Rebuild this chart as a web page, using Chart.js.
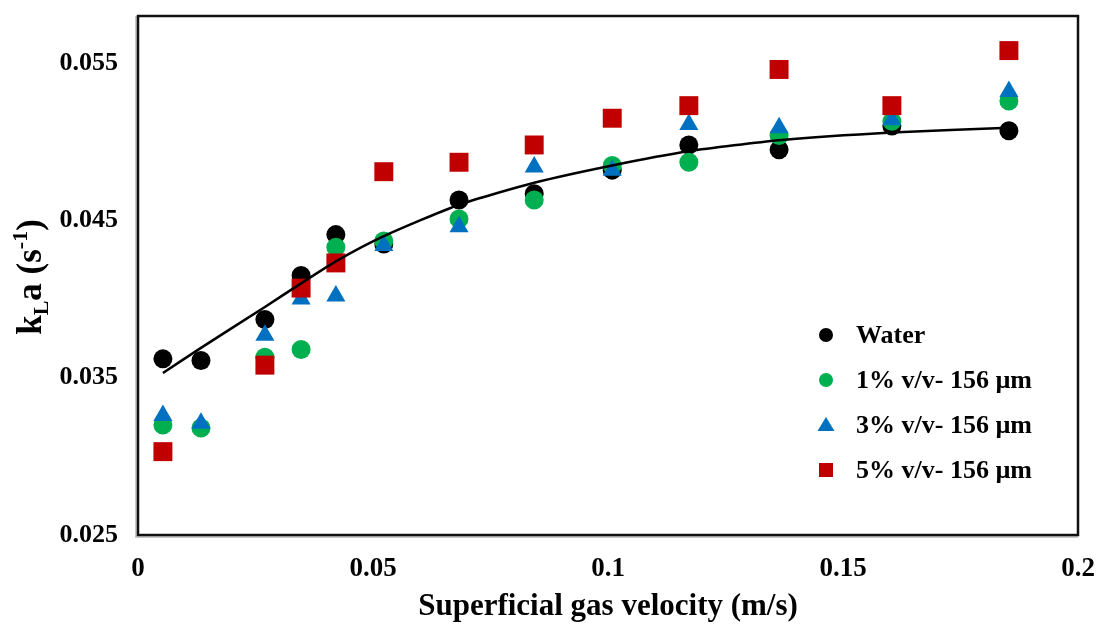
<!DOCTYPE html>
<html>
<head>
<meta charset="utf-8">
<script src="https://cdn.jsdelivr.net/npm/chart.js@4.4.1/dist/chart.umd.min.js"></script>
<style>
  body { margin: 0; background: #fff; }
  #wrap { width: 1099px; height: 627px; }
</style>
</head>
<body>
<div id="wrap"><canvas id="kla" width="1099" height="627"></canvas></div>
<script>
// superficial gas velocity (m/s)
const velocity = [0.0053, 0.0134, 0.0270, 0.0347, 0.0421, 0.0523, 0.0683, 0.0843, 0.1009, 0.1172, 0.1364, 0.1604, 0.1853];

// kLa (1/s) per liquid
const water = [0.0362, 0.0361, 0.0387, 0.0415, 0.0441, 0.0435, 0.0463, 0.0467, 0.0482, 0.0498, 0.0495, 0.0510, 0.0507];
const solid1 = [0.0320, 0.0318, 0.0363, 0.0368, 0.0433, 0.0437, 0.0451, 0.0463, 0.0485, 0.0487, 0.0504, 0.0513, 0.0526];
const solid3 = [0.0326, 0.0321, 0.0377, 0.0400, 0.0402, 0.0434, 0.0446, 0.0484, 0.0482, 0.0511, 0.0509, 0.0514, 0.0532];
const solid5 = [0.0303, null, 0.0358, 0.0407, 0.0423, 0.0481, 0.0487, 0.0498, 0.0515, 0.0523, 0.0546, 0.0523, 0.0558];

// fitted curve for water
const trend = [0.0353, 0.0369, 0.0395, 0.0410, 0.0424, 0.0440, 0.0460, 0.0474, 0.0485, 0.0494, 0.0501, 0.0506, 0.0509];

const xTicks = [0, 0.05, 0.1, 0.15, 0.2];
const yTicks = [0.025, 0.035, 0.045, 0.055];

const serif = '"Liberation Serif", "Times New Roman", serif';

function points(ys) {
  const out = [];
  ys.forEach((y, i) => {
    if (y !== null) out.push({ x: velocity[i], y: y });
  });
  return out;
}

function marker(label, ys, color, style, radius, order) {
  return {
    type: "scatter",
    label: label,
    data: points(ys),
    backgroundColor: color,
    borderWidth: 0,
    pointStyle: style,
    pointRadius: radius,
    pointHoverRadius: radius,
    order: order,
  };
}

const series = [
  marker("Water", water, "#000000", "circle", 9.5, 4),
  marker("1% v/v- 156 µm", solid1, "#00B050", "circle", 9.5, 3),
  marker("3% v/v- 156 µm", solid3, "#0070C0", "triangle", 11, 2),
  marker("5% v/v- 156 µm", solid5, "#C00000", "rect", 13.4, 1),
];

// keep tick labels from pushing the plot area inwards
function noOverhang(scale) {
  scale.paddingTop = 0;
  scale.paddingBottom = 0;
  scale.paddingLeft = 0;
  scale.paddingRight = 0;
}

// plot frame and the in-plot legend
const framePlugin = {
  id: "frame",
  afterDatasetsDraw(chart) {
    const { ctx, chartArea: a } = chart;
    ctx.save();
    ctx.strokeStyle = "#c8c8c8";
    ctx.lineWidth = 2;
    ctx.beginPath();
    ctx.moveTo(a.left - 2, a.top);
    ctx.lineTo(a.left - 2, a.bottom + 2);
    ctx.lineTo(a.right, a.bottom + 2);
    ctx.stroke();
    ctx.strokeStyle = "#111";
    ctx.lineWidth = 2.5;
    ctx.strokeRect(a.left, a.top, a.right - a.left, a.bottom - a.top);
    ctx.restore();

    // legend
    const lx = 826, tx = 856, rows = [335, 380, 425, 470];
    ctx.save();
    ctx.font = "bold 26px " + serif;
    ctx.textBaseline = "middle";
    series.forEach((ds, i) => {
      const y = rows[i];
      ctx.fillStyle = ds.backgroundColor;
      ctx.beginPath();
      if (ds.pointStyle === "circle") {
        ctx.arc(lx, y, 7, 0, Math.PI * 2);
      } else if (ds.pointStyle === "triangle") {
        ctx.moveTo(lx, y - 8);
        ctx.lineTo(lx + 8.5, y + 6);
        ctx.lineTo(lx - 8.5, y + 6);
        ctx.closePath();
      } else {
        ctx.rect(lx - 7, y - 7, 14, 14);
      }
      ctx.fill();
      ctx.fillStyle = "#000";
      ctx.fillText(ds.label, tx, y + 1);
    });
    ctx.restore();
  },
  afterDraw(chart) {
    // y axis title: k_L a (s^-1)
    const { ctx } = chart;
    const big = "bold 35px " + serif;
    const small = "bold 22px " + serif;
    const parts = [
      { t: "k", f: big, dy: 0 },
      { t: "L", f: small, dy: 7 },
      { t: "a (s", f: big, dy: 0 },
      { t: "-1", f: small, dy: -14 },
      { t: ")", f: big, dy: 0 },
    ];
    ctx.save();
    let total = 0;
    parts.forEach((p) => {
      ctx.font = p.f;
      p.w = ctx.measureText(p.t).width;
      total += p.w;
    });
    ctx.translate(41, 277);
    ctx.rotate(-Math.PI / 2);
    ctx.fillStyle = "#000";
    ctx.textBaseline = "alphabetic";
    let x = -total / 2;
    parts.forEach((p) => {
      ctx.font = p.f;
      ctx.fillText(p.t, x, p.dy);
      x += p.w;
    });
    ctx.restore();
  },
};

new Chart(document.getElementById("kla"), {
  data: {
    datasets: [
      {
        type: "line",
        label: "fit",
        data: points(trend),
        borderColor: "#000",
        borderWidth: 2.5,
        pointRadius: 0,
        fill: false,
        tension: 0.2,
        order: 0,
      },
      ...series,
    ],
  },
  options: {
    responsive: false,
    animation: false,
    layout: { padding: { top: 16, right: 21, left: 0, bottom: 0 } },
    plugins: {
      legend: { display: false },
      tooltip: { enabled: false },
    },
    scales: {
      x: {
        type: "linear",
        min: 0,
        max: 0.2,
        grid: { display: false, drawTicks: false },
        border: { display: false },
        afterBuildTicks: (scale) => {
          scale.ticks = xTicks.map((v) => ({ value: v }));
        },
        afterFit: (scale) => {
          scale.height = 92;
          noOverhang(scale);
        },
        ticks: {
          padding: 18,
          color: "#000",
          font: { family: serif, size: 27, weight: "bold" },
          callback: (v) => String(v),
        },
        title: {
          display: true,
          text: "Superficial gas velocity (m/s)",
          color: "#000",
          font: { family: serif, size: 31, weight: "bold" },
          padding: { top: 0, bottom: 1 },
        },
      },
      y: {
        type: "linear",
        min: 0.025,
        max: 0.058,
        grid: { display: false, drawTicks: false },
        border: { display: false },
        afterBuildTicks: (scale) => {
          scale.ticks = yTicks.map((v) => ({ value: v }));
        },
        afterFit: (scale) => {
          scale.width = 138;
          noOverhang(scale);
        },
        ticks: {
          padding: 20,
          color: "#000",
          font: { family: serif, size: 26, weight: "bold" },
          callback: (v) => v.toFixed(3),
        },
      },
    },
  },
  plugins: [framePlugin],
});
</script>
</body>
</html>
